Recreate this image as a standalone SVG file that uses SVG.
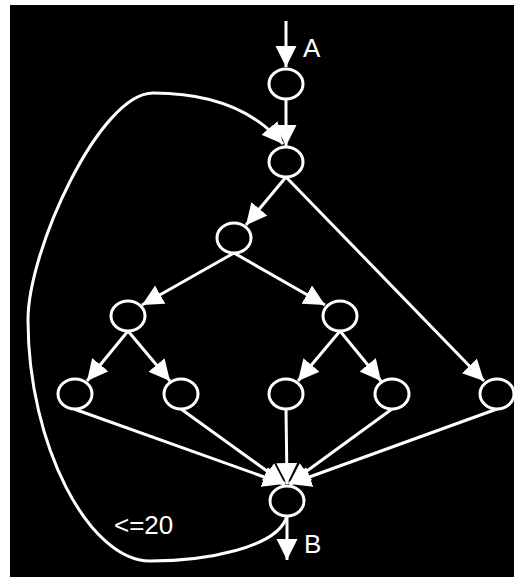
<svg xmlns="http://www.w3.org/2000/svg" width="516" height="577" viewBox="0 0 516 577">
<defs>
<marker id="ah" markerUnits="userSpaceOnUse" markerWidth="22" markerHeight="22" refX="21" refY="10.5" orient="auto" viewBox="0 0 22 22">
<path d="M0,0 L21,10.5 L0,21 z" fill="#fff"/>
</marker>
<style>
.n{fill:#000;stroke:#fff;stroke-width:3}
.e{fill:none;stroke:#fff;stroke-width:3;marker-end:url(#ah)}
.t{fill:#fff;font-family:"Liberation Sans",Arial,sans-serif;font-size:26px}
</style>
</defs>
<rect x="0" y="0" width="516" height="577" fill="#fff"/>
<rect x="10" y="5" width="504" height="572" fill="#000"/>
<g id="connectors">
<line class="e" x1="286" y1="21" x2="286" y2="67"/>
<line class="e" x1="286" y1="99" x2="286" y2="146"/>
<path class="e" d="M287,516 C278,548 205,561 150,561 C89,561 28,445 28,320 C28,250 100,93 153,93 C200,93 250,105 283,144"/>
<line class="e" x1="286" y1="177" x2="246" y2="225"/>
<line class="e" x1="286" y1="177" x2="484" y2="381"/>
<line class="e" x1="234" y1="253" x2="142" y2="305"/>
<line class="e" x1="234" y1="253" x2="325" y2="305"/>
<line class="e" x1="128" y1="331" x2="87" y2="381"/>
<line class="e" x1="128" y1="331" x2="170" y2="381"/>
<line class="e" x1="340" y1="331" x2="298" y2="381"/>
<line class="e" x1="340" y1="331" x2="381" y2="381"/>
<line class="e" x1="74" y1="409" x2="284" y2="484"/>
<line class="e" x1="181" y1="409" x2="285" y2="484"/>
<line class="e" x1="286" y1="409" x2="287" y2="484"/>
<line class="e" x1="392" y1="409" x2="289" y2="484"/>
<line class="e" x1="497" y1="409" x2="290" y2="484"/>
<line class="e" x1="287" y1="516" x2="287" y2="560"/>
</g>
<g id="n1"><ellipse class="n" cx="286" cy="84" rx="17" ry="15"/></g>
<g id="n2"><ellipse class="n" cx="286" cy="162" rx="17" ry="15"/></g>
<g id="n3"><ellipse class="n" cx="234" cy="238" rx="17" ry="15"/></g>
<g id="n4"><ellipse class="n" cx="128" cy="316" rx="17" ry="15"/></g>
<g id="n5"><ellipse class="n" cx="340" cy="316" rx="17" ry="15"/></g>
<g id="n7"><ellipse class="n" cx="75" cy="394" rx="17" ry="15"/></g>
<g id="n8"><ellipse class="n" cx="181" cy="394" rx="17" ry="15"/></g>
<g id="n9"><ellipse class="n" cx="286" cy="394" rx="17" ry="15"/></g>
<g id="n10"><ellipse class="n" cx="392" cy="394" rx="17" ry="15"/></g>
<g id="n11"><ellipse class="n" cx="497" cy="394" rx="17" ry="15"/></g>
<g id="n12"><ellipse class="n" cx="287" cy="501" rx="17" ry="15"/></g>
<g id="labels">
<text class="t" x="303" y="57">A</text>
<text class="t" x="304" y="553">B</text>
<text class="t" x="114" y="534">&lt;=20</text>
</g>
</svg>
